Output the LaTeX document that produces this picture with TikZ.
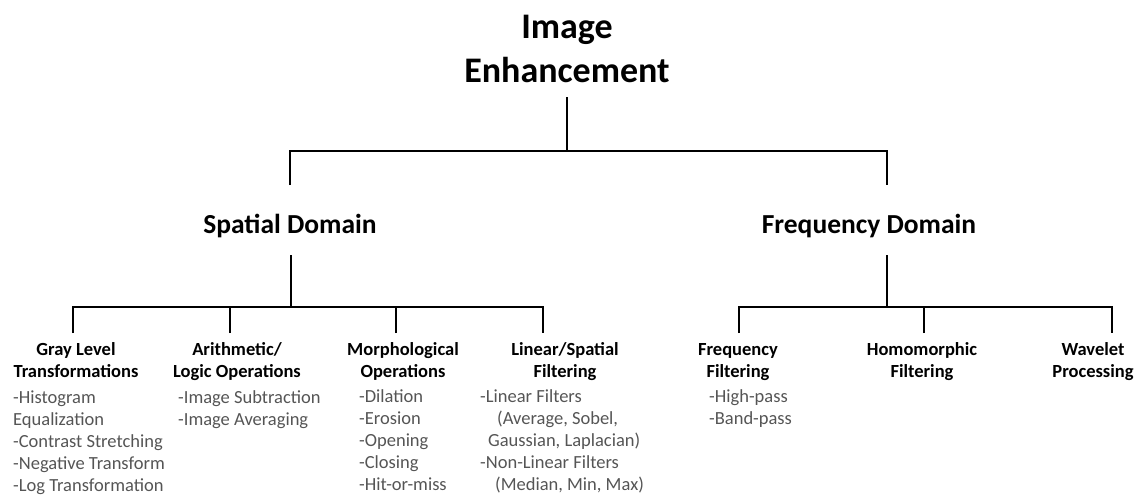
\documentclass[tikz,border=0pt]{standalone}
\usepackage{fontspec}
\setmainfont{Carlito}
\definecolor{itemgray}{RGB}{85,85,85}
\begin{document}
\begin{tikzpicture}[x=1pt,y=-1pt,
  branch/.style={line width=2.6pt,black},
  title/.style={font=\bfseries\fontsize{36}{44}\selectfont,align=center,anchor=base,inner sep=0pt},
  domainlabel/.style={font=\bfseries\fontsize{27.5}{33}\selectfont,anchor=base,inner sep=0pt},
  head/.style={font=\bfseries\fontsize{18.5}{22}\selectfont,align=center,anchor=base,inner sep=0pt},
  items/.style={font=\fontsize{18.5}{22}\selectfont,text=itemgray,align=left,anchor=base west,inner sep=0pt}]
 \useasboundingbox (0,0) rectangle (1138,496);
 % root (anchored at the baseline of its last line)
 \node[title] (root) at (567,82) {Image\\Enhancement};
 \coordinate (r0) at (567,97);
 \coordinate (r1) at (567,151);
 % domains
 \node[domainlabel] (spatial) at (290,233) {Spatial Domain};
 \node[domainlabel] (freq) at (869,233) {Frequency Domain};
 \coordinate (s0) at (290,185);
 \coordinate (f0) at (887,185);
 \draw[branch] (r0) -- (r1);
 \draw[branch] (s0) |- (r1) -| (f0);
 % spatial domain methods
 \coordinate (s1) at (291,255);
 \coordinate (s2) at (291,307);
 \coordinate (g0) at (73,333);
 \coordinate (a0) at (230,333);
 \coordinate (m0) at (396,333);
 \coordinate (l0) at (543,333);
 \draw[branch] (s1) -- (s2);
 \draw[branch] (g0) |- (s2) -| (l0);
 \foreach \c in {a0,m0} \draw[branch] (\c) -- (\c |- s2);
 \node[head] (gray) at (76,377) {Gray Level\\Transformations};
 \node[head] (arith) at (237,377) {Arithmetic/\\Logic Operations};
 \node[head] (morph) at (403,377) {Morphological\\Operations};
 \node[head] (linear) at (565,377) {Linear/Spatial\\Filtering};
 \node[items] (grayitems) at (13,491) {-Histogram\\Equalization\\-Contrast Stretching\\-Negative Transform\\-Log Transformation};
 \node[items] (arithitems) at (178,425) {-Image Subtraction\\-Image Averaging};
 \node[items] (morphitems) at (359,490) {-Dilation\\-Erosion\\-Opening\\-Closing\\-Hit-or-miss};
 \node[items] (linearitems) at (480,490) {-Linear Filters\\\hspace*{17pt}(Average, Sobel,\\\hspace*{8pt}Gaussian, Laplacian)\\-Non-Linear Filters\\\hspace*{15pt}(Median, Min, Max)};
 % frequency domain methods
 \coordinate (f1) at (887,255);
 \coordinate (f2) at (887,307);
 \coordinate (ff0) at (739,333);
 \coordinate (h0) at (924,333);
 \coordinate (w0) at (1112,333);
 \draw[branch] (f1) -- (f2);
 \draw[branch] (ff0) |- (f2) -| (w0);
 \draw[branch] (h0) -- (h0 |- f2);
 \node[head] (freqfilt) at (738,377) {Frequency\\Filtering};
 \node[head] (homo) at (922,377) {Homomorphic\\Filtering};
 \node[head] (wave) at (1093,377) {Wavelet\\Processing};
 \node[items] (freqitems) at (709,424) {-High-pass\\-Band-pass};
\end{tikzpicture}
\end{document}
